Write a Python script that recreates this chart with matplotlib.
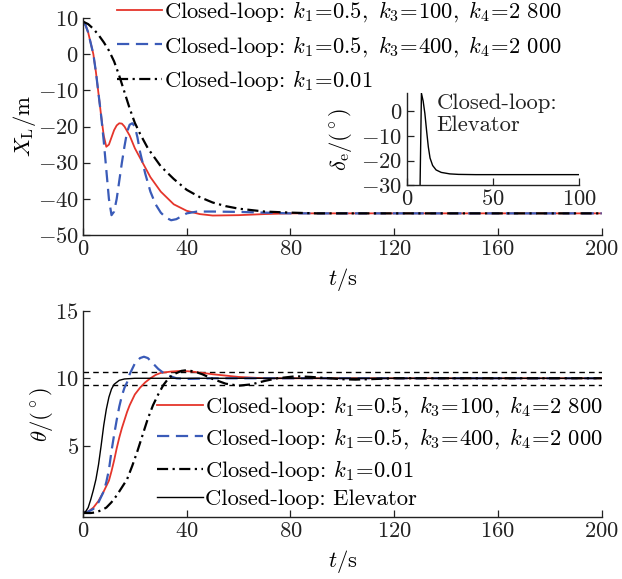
import matplotlib
matplotlib.use("Agg")
import matplotlib.pyplot as plt
import numpy as np

plt.rcParams['font.family'] = 'serif'
plt.rcParams['font.serif'] = ['cmr10']
plt.rcParams['mathtext.fontset'] = 'cm'
plt.rcParams['axes.formatter.use_mathtext'] = True
plt.rcParams['font.size'] = 16.3
plt.rcParams['axes.unicode_minus'] = True

# 上图：X_L 响应
t_red_x = [0, 1, 2, 3, 4, 5, 6, 7, 8, 9, 10, 11, 12, 13, 14, 15, 16, 18, 20, 23, 26, 30, 35, 40, 45, 50, 60, 70, 80, 200]
x_red = [9, 8, 6, 3, 0, -5, -11, -17, -22.5, -25.6, -25, -23, -21, -19.7, -19.1, -19.2, -20, -22.5, -26, -30, -34, -38,
         -41.5, -43.3, -44.2, -44.6, -44.5, -44.2, -44.0, -44.0]

t_blue_x = [0, 1, 2, 3, 4, 5, 6, 7, 8, 9, 10, 11, 12, 13, 14, 15, 16, 17, 18, 19, 20, 21, 22, 24, 26, 28, 30, 32, 34,
            36, 38, 40, 44, 50, 60, 70, 80, 200]
x_blue = [9, 8, 6, 3, 0, -5, -11, -17, -24, -32, -40, -44.5, -43.5, -40, -35, -30, -25.5, -21.5, -19.5, -19.1, -20,
          -23, -27, -33, -38, -41.5, -43.8, -45.2, -45.9, -45.6, -44.8, -44, -43.5, -43.5, -43.6, -43.8, -44, -44]

t_blk_x = [0, 2, 4, 6, 8, 10, 12, 14, 16, 18, 20, 22, 25, 30, 35, 40, 45, 50, 55, 60, 70, 80, 90, 200]
x_blk = [9, 8.3, 7, 5.3, 3.3, 1, -2, -6, -10.5, -15, -19, -22, -26, -31, -34.5, -37.5, -39.5, -41, -42, -42.7,
         -43.5, -43.8, -44, -44]

# 小图：升降舵偏角
t_elev = [7.5, 8.5, 9.5, 10.5, 11.5, 12.5, 13.5, 15, 17, 20, 25, 30, 40, 100]
d_elev = [-40, 7.2, 4, -1, -8, -14.5, -19, -22, -23.8, -24.8, -25.4, -25.6, -25.7, -25.7]

# 下图：theta 响应
t_red_th = [0, 2, 4, 6, 8, 10, 11, 12, 13, 14, 15, 16, 17, 18, 20, 22, 24, 26, 28, 30, 34, 38, 42, 46, 50, 60, 70, 200]
th_red = [0, 0.1, 0.4, 0.9, 1.6, 2.4, 3.1, 3.9, 4.8, 5.6, 6.3, 6.9, 7.5, 8.0, 8.8, 9.3, 9.7, 10.0, 10.25, 10.4,
          10.5, 10.55, 10.5, 10.4, 10.3, 10.1, 10.0, 10]

t_blue_th = [0, 2, 4, 6, 8, 9, 10, 11, 12, 13, 14, 15, 16, 17, 18, 20, 22, 23.5, 25, 27, 29, 31, 33, 36, 40, 50, 200]
th_blue = [0, 0.1, 0.3, 0.8, 1.6, 2.3, 3.2, 4.6, 5.8, 6.9, 7.9, 8.7, 9.3, 9.7, 10.3, 11.1, 11.5, 11.6, 11.5, 11.1,
           10.7, 10.4, 10.2, 10.0, 9.95, 10, 10]

t_blk_th = [0, 3, 5, 7, 9, 11, 13, 15, 17, 19, 21, 23, 25, 27, 29, 31, 33, 35, 38, 40, 43, 46, 50, 55, 60, 65, 70,
            75, 82, 88, 95, 100, 105, 110, 120, 200]
th_blk = [0, 0, 0.05, 0.2, 0.4, 0.8, 1.3, 1.9, 2.5, 3.5, 4.6, 5.8, 7.0, 8.0, 8.8, 9.5, 10.0, 10.3, 10.55, 10.6, 10.5,
          10.3, 9.95, 9.6, 9.45, 9.55, 9.8, 10.0, 10.15, 10.1, 10.0, 9.93, 9.9, 9.93, 10.0, 10]

t_ele_th = [0, 1, 2, 3, 4, 5, 6, 7, 8, 9, 10, 11, 12, 14, 16, 20, 200]
th_ele = [0, 0.1, 0.4, 1.0, 1.7, 2.5, 3.6, 5.0, 6.5, 7.7, 8.6, 9.2, 9.55, 9.85, 9.95, 10, 10]

band = [9.5, 10.5]

labels = [r'Closed-loop: $k_1\!=\!0.5,\ k_3\!=\!100,\ k_4\!=\!2\ 800$',
          r'Closed-loop: $k_1\!=\!0.5,\ k_3\!=\!400,\ k_4\!=\!2\ 000$',
          r'Closed-loop: $k_1\!=\!0.01$',
          'Closed-loop: Elevator']

red = '#e5352b'
blue = '#3a5bb8'
txt = '#222222'


def style(ax):
    for s in ['top', 'right']:
        ax.spines[s].set_visible(False)
    for s in ['left', 'bottom']:
        ax.spines[s].set_linewidth(1.0)
        ax.spines[s].set_color(txt)
    ax.tick_params(direction='in', length=5, width=0.9, colors=txt, labelcolor=txt, pad=3)


fig = plt.figure(figsize=(6.22, 5.79), dpi=100)

# 上图
ax1 = fig.add_axes([0.1334, 0.594, 0.834, 0.375])
l1, = ax1.plot(t_red_x, x_red, color=red, lw=1.3)
l2, = ax1.plot(t_blue_x, x_blue, color=blue, lw=1.6, ls=(0, (5.5, 3)))
l3, = ax1.plot(t_blk_x, x_blk, color='k', lw=1.6, ls=(0, (5, 2, 1, 2)))
ax1.set_xlim(0, 200)
ax1.set_ylim(-50, 10)
ax1.set_xticks(np.arange(0, 201, 40))
ax1.set_yticks(np.arange(-50, 11, 10))
ax1.set_xlabel(r'$t/\mathrm{s}$', labelpad=5)
ax1.set_ylabel(r'$X_{\mathrm{L}}/\mathrm{m}$', labelpad=0)
style(ax1)
ax1.legend([l1, l2, l3], labels[:3], loc='upper left', bbox_to_anchor=(0.0655, 1.085), frameon=False,
           handlelength=2.0, handletextpad=0.1, labelspacing=0.42, borderpad=0, borderaxespad=0)

# 小图
ax_in = fig.add_axes([0.654, 0.680, 0.277, 0.159])
ax_in.plot(t_elev, d_elev, color='k', lw=1.0)
ax_in.set_xlim(0, 100)
ax_in.set_ylim(-30, 7.2)
ax_in.set_xticks([0, 50, 100])
ax_in.set_yticks([-30, -20, -10, 0])
ax_in.set_ylabel(r'$\delta_{\mathrm{e}}/(^\circ)$', labelpad=5)
ax_in.patch.set_alpha(0)
style(ax_in)
ax_in.text(0.174, 1.0, 'Closed-loop:\nElevator', transform=ax_in.transAxes, va='top', ha='left',
           color=txt, linespacing=1.15)

# 下图
ax2 = fig.add_axes([0.1334, 0.107, 0.834, 0.356])
for b in band:
    ax2.plot([0, 200], [b, b], color='k', lw=1.0, ls=(0, (4, 3)))
m1, = ax2.plot(t_red_th, th_red, color=red, lw=1.3)
m2, = ax2.plot(t_blue_th, th_blue, color=blue, lw=1.6, ls=(0, (5.5, 3)))
m3, = ax2.plot(t_blk_th, th_blk, color='k', lw=1.6, ls=(0, (5, 2, 1, 2)))
m4, = ax2.plot(t_ele_th, th_ele, color='k', lw=1.0)
ax2.set_xlim(0, 200)
ax2.set_ylim(-0.3, 15)
ax2.set_xticks(np.arange(0, 201, 40))
ax2.set_yticks([5, 10, 15])
ax2.set_xlabel(r'$t/\mathrm{s}$', labelpad=5)
ax2.set_ylabel(r'$\theta/(^\circ)$', labelpad=0)
style(ax2)
ax2.legend([m1, m2, m3, m4], labels, loc='upper left', bbox_to_anchor=(0.1435, 0.595), frameon=False,
           handlelength=2.0, handletextpad=0.1, labelspacing=0.3, borderpad=0, borderaxespad=0)

fig.savefig('out.png', dpi=100)
